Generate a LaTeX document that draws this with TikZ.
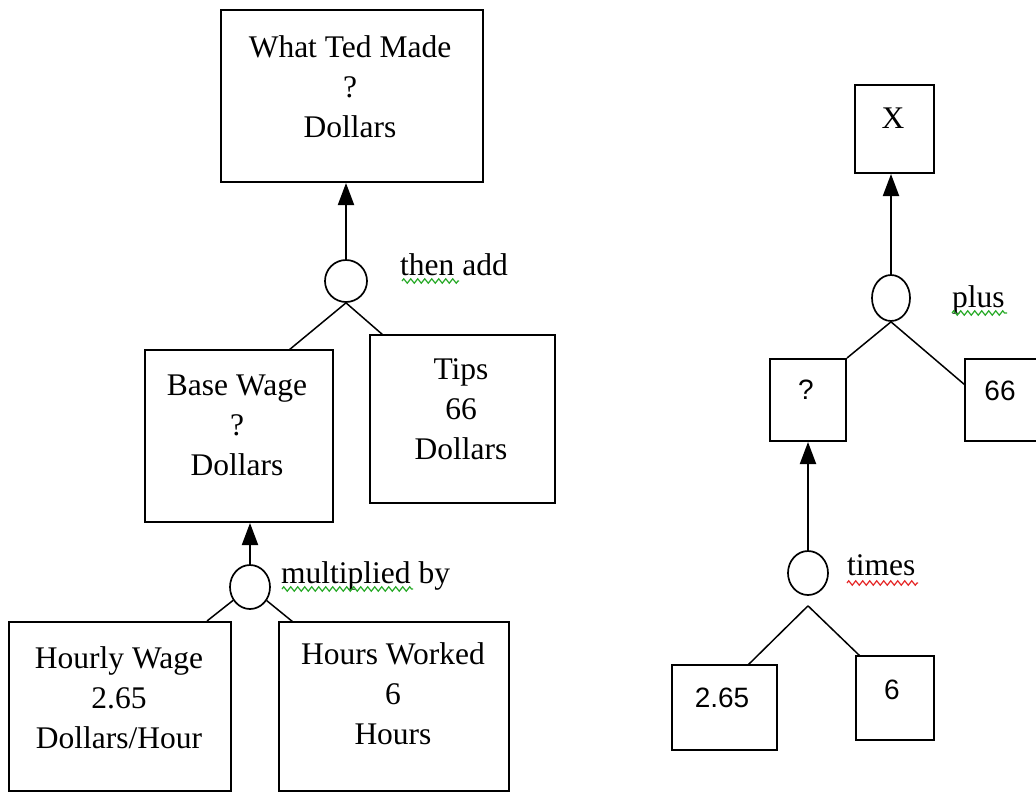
\documentclass[tikz,border=0pt]{standalone}
\usepackage{fontspec}
\setmainfont{Liberation Serif}
\newfontfamily\sansf{Liberation Sans}
\usetikzlibrary{arrows.meta,shapes.geometric,decorations.pathmorphing,calc}
\definecolor{spellgreen}{RGB}{40,170,40}
\definecolor{spellred}{RGB}{230,40,40}
\tikzset{
  box/.style={draw, line width=2pt, rectangle, inner sep=0pt},
  txt/.style={align=center, inner sep=0pt, font=\fontsize{31.5}{40}\selectfont},
  stxt/.style={align=center, inner sep=0pt, font=\sansf\fontsize{28}{36}\selectfont},
  lbl/.style={inner sep=0pt, anchor=base west, font=\fontsize{31.5}{40}\selectfont},
  opnode/.style={draw, ellipse, line width=1.7pt, inner sep=0pt},
  conn/.style={line width=1.5pt},
  arr/.style={line width=2pt, -{Triangle[length=22pt,width=16pt]}},
  wavy/.style={line width=1.2pt, decorate, decoration={zigzag, segment length=7pt, amplitude=2.2pt}}
}
\begin{document}
\begin{tikzpicture}[x=1pt,y=-1pt]
\useasboundingbox (0,0) rectangle (1036,793);
\clip (0,0) rectangle (1036,793);
\fill[white] (0,0) rectangle (1036,793);

% ---------- left tree ----------
\node[box, minimum width=262pt, minimum height=172pt] (wtm) at (351.5,96) {};
\node[txt] (wtmt) at (350,87) {What Ted Made\\?\\Dollars};

\node[opnode, minimum width=42pt, minimum height=42pt] (c1) at (346,281) {};
\node[lbl] (l1) at (400,275) {then add};
\draw[wavy, spellgreen] (402,281) -- (459,281);

\node[box, minimum width=188pt, minimum height=172pt] (bw) at (239,436) {};
\node[txt] (bwt) at (237,425) {Base Wage\\?\\Dollars};

\node[box, minimum width=185pt, minimum height=168pt] (tips) at (462.5,419) {};
\node[txt] (tipst) at (461,409) {Tips\\66\\Dollars};

\node[opnode, minimum width=40pt, minimum height=44pt] (c2) at (250,587) {};
\node[lbl] (l2) at (281,583) {multiplied by};
\draw[wavy, spellgreen] (282,589) -- (413,589);

\node[box, minimum width=222pt, minimum height=169pt] (hw) at (120,706.5) {};
\node[txt] (hwt) at (119,698) {Hourly Wage\\2.65\\Dollars/Hour};

\node[box, minimum width=230pt, minimum height=169pt] (hrs) at (394,706.5) {};
\node[txt] (hrst) at (393,694) {Hours Worked\\6\\Hours};

\coordinate (bwin) at (289,350);
\coordinate (tipsin) at (383,335);
\coordinate (hwin) at (207,621);
\coordinate (hrsin) at (293,622);

\draw[arr] (c1.north) -- (c1.north |- wtm.south);
\draw[conn] (c1.south) -- (bwin);
\draw[conn] (c1.south) -- (tipsin);
\draw[arr] (c2.north) -- (c2.north |- bw.south);
\draw[conn] (c2) -- (hwin);
\draw[conn] (c2) -- (hrsin);

% ---------- right tree ----------
\node[box, minimum width=79pt, minimum height=88pt] (xb) at (894.5,129) {};
\node[txt] (xt) at (893,118) {X};

\node[opnode, minimum width=38pt, minimum height=46pt] (c3) at (891,298) {};
\node[lbl] (l3) at (952,307) {plus};
\draw[wavy, spellgreen] (952,313) -- (1007,313);

\node[box, minimum width=76pt, minimum height=82pt] (qb) at (808,400) {};
\node[stxt] (qt) at (806,390) {?};

\node[box, minimum width=90pt, minimum height=82pt] (sixty) at (1010,400) {};
\node[stxt] (sixtyt) at (1000,391) {66};

\node[opnode, minimum width=40pt, minimum height=44pt] (c4) at (808,573) {};
\node[lbl] (l4) at (847,575) {times};
\draw[wavy, spellred] (847,583) -- (918,583);

\node[box, minimum width=105pt, minimum height=85pt] (twb) at (724.5,707.5) {};
\node[stxt] (twt) at (722,698) {2.65};

\node[box, minimum width=78pt, minimum height=84pt] (sixb) at (895,698) {};
\node[stxt] (sixt) at (892,690) {6};

\coordinate (sixtyin) at (965,385);
\coordinate (apex) at ($(c4.south)+(0,10)$);
\coordinate (twin) at (748,665);
\coordinate (sixin) at (860,656);

\draw[arr] (c3.north) -- (c3.north |- xb.south);
\draw[conn] (c3.south) -- (qb.north east);
\draw[conn] (c3.south) -- (sixtyin);
\draw[arr] (c4.north) -- (c4.north |- qb.south);
\draw[conn] (apex) -- (twin);
\draw[conn] (apex) -- (sixin);
\end{tikzpicture}
\end{document}
